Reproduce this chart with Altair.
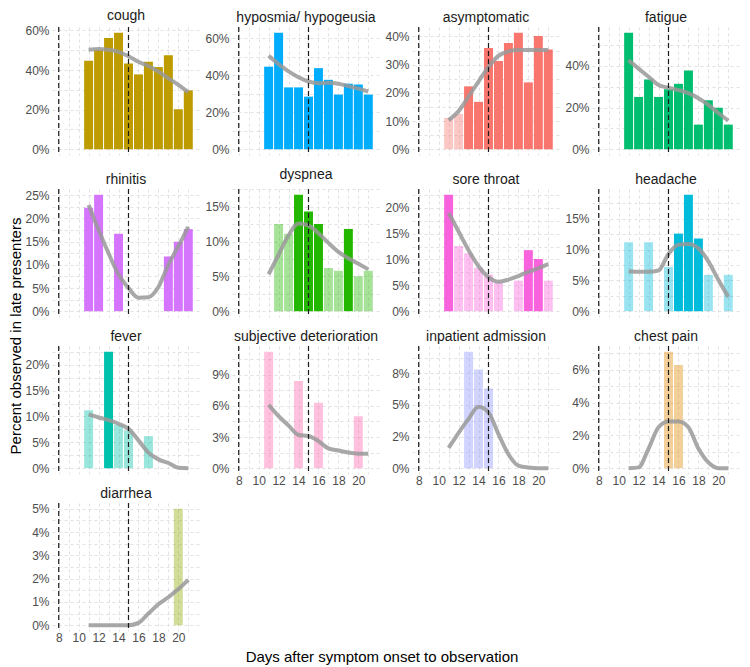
import altair as alt
import pandas as pd

FONT = "Liberation Sans"

DAYS = [11, 12, 13, 14, 15, 16, 17, 18, 19, 20, 21]
REF_DAYS = [8, 15]
X_GRID = list(range(8, 22))

SYMPTOMS = ["cough", "hyposmia/ hypogeusia", "asymptomatic", "fatigue",
            "rhinitis", "dyspnea", "sore throat", "headache",
            "fever", "subjective deterioration", "inpatient admission", "chest pain",
            "diarrhea"]
COLORS = ["#BE9C00", "#00ACFC", "#F8766D", "#00BE70",
          "#D575FE", "#24B700", "#F962DD", "#00BBDA",
          "#00C1AB", "#FF65AC", "#8B93FF", "#E18A00",
          "#8CAB00"]

N = None
# percent observed per day (None = no bar)
PCT_COUGH = [44.7, 50.3, 56.2, 58.8, 43.3, 37.8, 44.2, 41.5, 47.5, 20.2, 29.7]
PCT_HYPOSMIA = [44.6, 62.9, 33.4, 33.4, 28.4, 43.8, 37.5, 29.5, 35.4, 35.0, 29.5]
PCT_ASYMPT = [11.1, 12.5, 22.3, 16.8, 35.9, 31.3, 37.7, 41.3, 23.7, 40.2, 35.4]
PCT_FATIGUE = [55.9, 25.1, 33.5, 25.1, 28.8, 31.4, 37.8, 11.8, 23.5, 19.9, 11.8]
PCT_RHINITIS = [22.3, 25.1, N, 16.7, N, N, N, N, 11.8, 15.0, 17.7]
PCT_DYSPNEA = [N, 12.5, 11.1, 16.7, 14.3, 12.5, 6.2, 5.8, 11.8, 5.0, 5.8]
PCT_SORE = [22.5, 12.6, 11.2, 8.4, 7.1, 5.5, N, 5.9, 11.8, 10.1, 5.9]
PCT_HEADACHE = [11.2, N, 11.2, N, 7.2, 12.6, 18.9, 11.8, 5.9, N, 5.9]
PCT_FEVER = [11.2, N, 22.5, 8.4, 7.3, N, 6.2, N, N, N, N]
PCT_SUBJ = [11.2, N, N, 8.4, N, 6.3, N, N, N, 5.0, N]
PCT_INPAT = [N, N, 9.2, 7.8, 6.3, N, N, N, N, N, N]
PCT_CHEST = [N, N, N, N, 7.1, 6.3, N, N, N, N, N]
PCT_DIARRHEA = [N, N, N, N, N, N, N, N, N, 5.0, N]

# 1 = strong (full colour), 0 = faint
STRONG_COUGH = [1] * 11
STRONG_HYPOSMIA = [1] * 11
STRONG_ASYMPT = [0, 0, 1, 1, 1, 1, 1, 1, 1, 1, 1]
STRONG_FATIGUE = [1] * 11
STRONG_RHINITIS = [1] * 11
STRONG_DYSPNEA = [0, 0, 0, 1, 1, 1, 0, 0, 1, 0, 0]
STRONG_SORE = [1, 0, 0, 0, 0, 0, 0, 0, 1, 1, 0]
STRONG_HEADACHE = [0, 0, 0, 0, 0, 1, 1, 1, 0, 0, 0]
STRONG_FEVER = [0, 0, 1, 0, 0, 0, 0, 0, 0, 0, 0]
STRONG_SUBJ = [0] * 11
STRONG_INPAT = [0] * 11
STRONG_CHEST = [0] * 11
STRONG_DIARRHEA = [0] * 11

# smoothed trend (percent) per day
FIT_COUGH = [50.3, 50.6, 50.2, 49.2, 47.0, 44.2, 42.0, 39.2, 35.8, 32.5, 28.8]
FIT_HYPOSMIA = [50.5, 46.0, 42.1, 38.9, 36.6, 35.7, 35.9, 35.4, 34.1, 32.7, 31.2]
FIT_ASYMPT = [10.3, 13.5, 18.7, 24.0, 29.2, 33.1, 34.7, 35.2, 35.2, 35.2, 35.2]
FIT_FATIGUE = [42.7, 38.7, 34.8, 30.8, 29.5, 28.4, 26.9, 24.5, 21.3, 17.4, 13.7]
FIT_RHINITIS = [22.9, 17.5, 12.5, 7.9, 5.0, 2.9, 3.0, 5.2, 10.0, 14.0, 18.2]
FIT_DYSPNEA = [5.3, 8.1, 10.9, 12.6, 12.3, 11.2, 9.8, 8.5, 7.6, 6.8, 6.0]
FIT_SORE = [19.0, 15.4, 11.8, 8.7, 6.6, 5.7, 6.1, 6.8, 7.6, 8.3, 9.1]
FIT_HEADACHE = [6.5, 6.4, 6.4, 6.6, 9.3, 10.8, 10.9, 10.2, 8.1, 5.1, 2.3]
FIT_FEVER = [10.4, 9.8, 9.3, 8.6, 7.6, 5.4, 3.0, 1.7, 1.0, 0.1, 0.0]
FIT_SUBJ = [6.1, 5.0, 4.1, 3.2, 3.1, 2.6, 1.9, 1.7, 1.5, 1.4, 1.4]
FIT_INPAT = [1.6, 2.8, 3.9, 4.85, 4.4, 2.7, 1.1, 0.2, 0.05, 0.0, 0.0]
FIT_CHEST = [0.0, 0.05, 1.2, 2.5, 2.85, 2.85, 2.5, 1.2, 0.35, 0.0, 0.0]
FIT_DIARRHEA = [0.0, 0.0, 0.0, 0.0, 0.0, 0.1, 0.5, 0.9, 1.2, 1.55, 1.95]

PCT = [PCT_COUGH, PCT_HYPOSMIA, PCT_ASYMPT, PCT_FATIGUE, PCT_RHINITIS, PCT_DYSPNEA,
       PCT_SORE, PCT_HEADACHE, PCT_FEVER, PCT_SUBJ, PCT_INPAT, PCT_CHEST, PCT_DIARRHEA]
STRONG = [STRONG_COUGH, STRONG_HYPOSMIA, STRONG_ASYMPT, STRONG_FATIGUE, STRONG_RHINITIS,
          STRONG_DYSPNEA, STRONG_SORE, STRONG_HEADACHE, STRONG_FEVER, STRONG_SUBJ,
          STRONG_INPAT, STRONG_CHEST, STRONG_DIARRHEA]
FIT = [FIT_COUGH, FIT_HYPOSMIA, FIT_ASYMPT, FIT_FATIGUE, FIT_RHINITIS, FIT_DYSPNEA,
       FIT_SORE, FIT_HEADACHE, FIT_FEVER, FIT_SUBJ, FIT_INPAT, FIT_CHEST, FIT_DIARRHEA]

Y_MAJOR = [[0, 20, 40, 60], [0, 20, 40, 60], [0, 10, 20, 30, 40], [0, 20, 40],
           [0, 5, 10, 15, 20, 25], [0, 5, 10, 15], [0, 5, 10, 15, 20], [0, 5, 10, 15],
           [0, 5, 10, 15, 20], [0, 3, 6, 9], [0, 2.5, 5, 7.5], [0, 2, 4, 6],
           [0, 1, 2, 3, 4, 5]]
Y_LABELS = [[f"{v:g}%" for v in m] for m in Y_MAJOR]
Y_LABELS[10] = ["0%", "2%", "5%", "8%"]

X_TITLE = "Days after symptom onset to observation"
Y_TITLE = "Percent observed in late presenters"

BOTTOM = {9, 10, 11, 12}
GRID_COLOR = "#d9d9d9"
W, H = 148, 128
E = 28          # y-axis label band
COL_GAP, ROW_GAP = 4, 0
X_DOMAIN = [7.325, 22.175]


def panel(i):
    pct, strong, fit = PCT[i], STRONG[i], FIT[i]
    bars_df = pd.DataFrame({"day": DAYS, "pct": pct, "strong": strong}).dropna(subset=["pct"])
    line_df = pd.DataFrame({"day": DAYS, "fit": fit})
    m = max(max(v for v in pct if v is not None), max(fit))
    ydom = [-0.05 * m, 1.05 * m]
    majors = Y_MAJOR[i]
    step = majors[1] - majors[0]
    minors = [v + step / 2 for v in majors if ydom[0] <= v + step / 2 <= ydom[1]]
    yvals = sorted(majors + minors)
    expr = " : ".join(f"datum.value === {v} ? '{lab}'" for v, lab in zip(majors, Y_LABELS[i])) + " : ''"

    xs = alt.Scale(domain=X_DOMAIN, nice=False, zero=False)
    ys = alt.Scale(domain=ydom, nice=False, zero=False)
    show = i in BOTTOM
    xaxis = alt.Axis(values=X_GRID, labels=show,
                     labelExpr="datum.value % 2 === 0 && datum.value <= 20 ? '' + datum.value : ''",
                     title=None, grid=True, gridDash=[3, 3], gridColor=GRID_COLOR, gridWidth=0.8,
                     ticks=False, domain=False, minExtent=13, labelPadding=1, labelFontSize=12,
                     labelColor="#4d4d4d", labelOverlap=False, labelFont=FONT)
    yaxis = alt.Axis(values=yvals, labelExpr=expr, title=None, grid=True, gridDash=[3, 3],
                     gridColor=GRID_COLOR, gridWidth=0.8, ticks=False, domain=False,
                     labelPadding=3, labelFontSize=12, labelColor="#4d4d4d", minExtent=E,
                     labelOverlap=False, labelFont=FONT)

    bars = alt.Chart(bars_df).transform_calculate(
        x0="datum.day - 0.45", x1="datum.day + 0.45"
    ).mark_bar(color=COLORS[i]).encode(
        x=alt.X("x0:Q", scale=xs, axis=xaxis),
        x2="x1:Q",
        y=alt.Y("pct:Q", scale=ys, axis=yaxis),
        y2=alt.datum(0),
        opacity=alt.condition(alt.datum.strong == 1, alt.value(1), alt.value(0.4)),
    )
    line = alt.Chart(line_df).mark_line(
        color="#999999", strokeWidth=4, opacity=0.85, interpolate="monotone"
    ).encode(
        x=alt.X("day:Q", scale=xs, axis=xaxis),
        y=alt.Y("fit:Q", scale=ys, axis=yaxis),
    )
    rules = alt.Chart(pd.DataFrame({"day": REF_DAYS})).mark_rule(
        color="#1a1a1a", strokeDash=[5, 3], strokeWidth=1.2
    ).encode(x=alt.X("day:Q", scale=xs, axis=xaxis))

    return alt.layer(bars, line, rules).properties(
        width=W, height=H,
        title=alt.TitleParams(SYMPTOMS[i], fontSize=14, offset=1, font=FONT,
                              fontWeight="normal", anchor="middle", frame="group", color="#1a1a1a"),
    )


panels = [panel(i) for i in range(len(SYMPTOMS))]
grid = alt.concat(*panels, columns=4, spacing={"row": ROW_GAP, "column": COL_GAP}).resolve_scale(
    x="independent", y="independent")

grid_w = 4 * (E + W) + 3 * COL_GAP
xtitle = alt.Chart(pd.DataFrame({"t": [X_TITLE]})).mark_text(
    fontSize=15, font=FONT, color="black", align="center", baseline="middle"
).encode(text="t:N", x=alt.value(grid_w / 2 - E), y=alt.value(9)).properties(
    width=grid_w - E, height=18)

ytitle = alt.Chart(pd.DataFrame({"t": [Y_TITLE]})).mark_text(
    fontSize=15, font=FONT, color="black", angle=270, align="center", baseline="middle"
).encode(text="t:N", x=alt.value(7.5), y=alt.value(309)).properties(width=15, height=600)

body = alt.vconcat(grid, xtitle, spacing=4)
chart = alt.hconcat(ytitle, body, spacing=0).properties(
    padding={"left": 0, "right": 0, "top": 1, "bottom": 0}
).configure(font=FONT).configure_view(stroke=None)

chart.save("out.html", embed_options={"renderer": "svg", "actions": False})
